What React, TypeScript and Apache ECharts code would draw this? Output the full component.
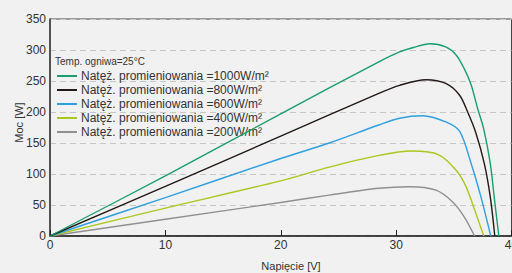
import React, { useEffect, useRef } from "react";
import * as echarts from "echarts";

const seriesNames = [
  "Natęż. promieniowania =1000W/m²",
  "Natęż. promieniowania =800W/m²",
  "Natęż. promieniowania =600W/m²",
  "Natęż. promieniowania =400W/m²",
  "Natęż. promieniowania =200W/m²",
];
const seriesColors = ["#1a9e6e", "#231815", "#2e9fe0", "#a9c81c", "#909090"];

const v1000 = [0, 10, 20, 28.5, 30.3, 31.5, 32.9, 34.3, 35.2, 35.9, 36.5, 37.06, 37.6, 38.16, 38.5, 38.9];
const p1000 = [0, 97, 197, 281, 297, 304, 310, 305, 292, 270, 244, 206, 172, 117, 63, 0];
const v800 = [0, 10, 20, 28.5, 30.3, 32.6, 34.3, 35.5, 36.2, 36.9, 37.64, 38.16, 38.55];
const p800 = [0, 80, 161, 230, 243, 252, 246, 227, 200, 167, 117, 63, 0];
const v600 = [0, 10, 20, 24.2, 28.5, 30.3, 32.3, 34.3, 35.5, 36.5, 37.35, 38.2];
const p600 = [0, 62, 125, 150, 179, 190, 194, 184, 169, 117, 63, 0];
const v400 = [0, 10, 20, 24.2, 28.5, 31.4, 33.7, 35.2, 36.05, 36.9, 37.6];
const p400 = [0, 45, 89, 111, 130, 137, 131, 106, 80, 37, 0];
const v200 = [0, 10, 20, 24.2, 28.5, 31.1, 33.45, 34.9, 35.9, 36.8];
const p200 = [0, 27, 54, 66, 77, 79.5, 74, 55, 31, 0];

const voltages = [v1000, v800, v600, v400, v200];
const powers = [p1000, p800, p600, p400, p200];

const xTicks = [0, 10, 20, 30, 40];
const yTicks = [0, 50, 100, 150, 200, 250, 300, 350];

const tempLabel = "Temp. ogniwa=25°C";
const xName = "Napięcie [V]";
const yName = "Moc [W]";

export default function App() {
  const ref = useRef<HTMLDivElement>(null);
  useEffect(() => {
    document.body.style.margin = "0";
    document.body.style.overflow = "hidden";
    document.body.style.background = "#f0f1f0";
    const chart = echarts.init(ref.current!, undefined, { renderer: "svg" });
    const font = "'Liberation Sans', Arial, sans-serif";
    chart.setOption({
      animation: false,
      backgroundColor: "#f0f1f0",
      textStyle: { fontFamily: font },
      grid: {
        left: 50,
        top: 19,
        width: 461.5,
        height: 217,
        show: true,
        borderColor: "#444",
        borderWidth: 1,
        backgroundColor: "transparent",
      },
      legend: {
        orient: "vertical",
        left: 57,
        top: 69,
        itemWidth: 20,
        itemHeight: 2,
        itemGap: 0,
        icon: "rect",
        padding: 0,
        textStyle: { fontSize: 12, color: "#333", lineHeight: 14, fontFamily: font, padding: [0, 0, 0, -1] },
        data: seriesNames,
      },
      xAxis: {
        type: "value",
        min: xTicks[0],
        max: xTicks[xTicks.length - 1],
        interval: 10,
        axisLine: { lineStyle: { color: "#231f20", width: 1.5 } },
        axisTick: { show: true, inside: true, length: 6, lineStyle: { color: "#231f20" } },
        axisLabel: { fontSize: 12, color: "#333", margin: 3, fontFamily: font },
        splitLine: { show: false },
      },
      yAxis: {
        type: "value",
        min: yTicks[0],
        max: yTicks[yTicks.length - 1],
        interval: 50,
        axisLine: { show: true, lineStyle: { color: "#3a3a3a", width: 1.5 } },
        axisTick: { show: false },
        axisLabel: { fontSize: 12, color: "#333", margin: 4, fontFamily: font },
        splitLine: { show: true, lineStyle: { color: "#c6c6c6", type: [6, 4], width: 1 } },
      },
      graphic: [
        { type: "text", left: 55, top: 56, style: { text: tempLabel, fontSize: 10, fill: "#333", fontFamily: font } },
        {
          type: "text",
          x: 291,
          y: 266,
          style: { text: xName, fontSize: 11, fill: "#333", fontFamily: font, align: "center", verticalAlign: "middle" },
        },
        {
          type: "text",
          x: 18.5,
          y: 122.5,
          rotation: Math.PI / 2,
          style: { text: yName, fontSize: 11, fill: "#333", fontFamily: font, align: "center", verticalAlign: "middle" },
        },
      ],
      series: seriesNames.map((name, i) => ({
        name,
        type: "line",
        smooth: 0.3,
        showSymbol: false,
        symbol: "none",
        color: seriesColors[i],
        lineStyle: { color: seriesColors[i], width: 1.4 },
        data: voltages[i].map((v, j) => [v, powers[i][j]]),
        z: 5 - i,
      })),
    });
    return () => chart.dispose();
  }, []);
  return <div ref={ref} style={{ position: "absolute", left: 0, top: 0, width: 540, height: 273 }} />;
}
